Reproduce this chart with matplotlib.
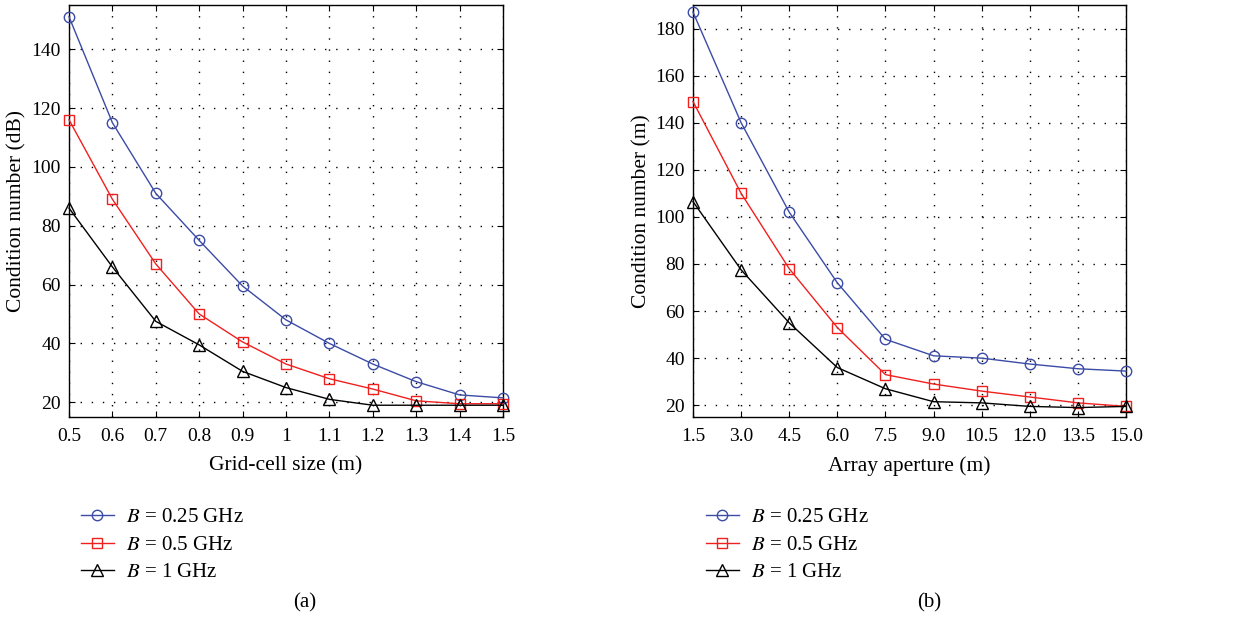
import numpy as np
import matplotlib
matplotlib.use("Agg")
import matplotlib.pyplot as plt

plt.rcParams['font.family'] = ['Liberation Serif', 'DejaVu Serif']
plt.rcParams['mathtext.fontset'] = 'stix'
plt.rcParams['font.size'] = 15.5

# panel (a): grid-cell size
grid_size = [0.5, 0.6, 0.7, 0.8, 0.9, 1.0, 1.1, 1.2, 1.3, 1.4, 1.5]
grid_tick_labels = ['0.5', '0.6', '0.7', '0.8', '0.9', '1', '1.1', '1.2', '1.3', '1.4', '1.5']
a_b025 = [151, 115, 91, 75, 59.5, 48, 40, 33, 27, 22.5, 21.5]
a_b05 = [116, 89, 67, 50, 40.5, 33, 28, 24.5, 20.5, 19.5, 19.5]
a_b1 = [86, 66, 47.5, 39.5, 30.5, 25, 21, 19, 19, 19, 19]

# panel (b): array aperture
aperture = [1.5, 3.0, 4.5, 6.0, 7.5, 9.0, 10.5, 12.0, 13.5, 15.0]
b_b025 = [187, 140, 102, 72, 48, 41, 40, 37.5, 35.5, 34.5]
b_b05 = [149, 110, 78, 53, 33, 29, 26, 23.5, 21, 19.5]
b_b1 = [106.5, 77.5, 55, 36, 27, 21.5, 21, 19.5, 19, 19.5]

labels = [r'$B$ = 0.25 GHz', r'$B$ = 0.5 GHz', r'$B$ = 1 GHz']
colors = ['#3b4ba6', '#f0201f', 'black']
markers = ['o', 's', '^']
msizes = [7.5, 7.5, 8.5]

W, H = 1252, 620
fig = plt.figure(figsize=(W / 100, H / 100), dpi=100)
ax1 = fig.add_axes([69 / W, 1 - 417 / H, (503 - 69) / W, (417 - 5) / H])
ax2 = fig.add_axes([693 / W, 1 - 417 / H, (1126 - 693) / W, (417 - 5) / H])


def draw(ax, x, series):
    for y, c, m, ms, lab in zip(series, colors, markers, msizes, labels):
        ax.plot(x, y, color=c, marker=m, mfc='none', mec=c, ms=ms, lw=1.0, mew=1.0,
                label=lab, clip_on=False, zorder=3)
    ax.grid(True, color='black', linestyle=(0, (1, 7)), linewidth=1.0)
    ax.tick_params(direction='in', top=True, right=True, length=4, labelsize=14)
    ax.tick_params(axis='x', pad=8)
    ax.tick_params(axis='y', pad=6)
    for s in ax.spines.values():
        s.set_linewidth(1.0)


draw(ax1, grid_size, [a_b025, a_b05, a_b1])
ax1.set_xlim(0.5, 1.5)
ax1.set_ylim(15, 155)
ax1.set_xticks(grid_size)
ax1.set_xticklabels(grid_tick_labels)
ax1.set_yticks(np.arange(20, 141, 20))
ax1.set_xlabel('Grid-cell size (m)', labelpad=8)
ax1.set_ylabel('Condition number (dB)')
ax1.yaxis.set_label_coords(-0.099, 0.5)

draw(ax2, aperture, [b_b025, b_b05, b_b1])
ax2.set_xlim(1.5, 15.0)
ax2.set_ylim(15, 190)
ax2.set_xticks(aperture)
ax2.set_xticklabels(['%.1f' % v for v in aperture])
ax2.set_yticks(np.arange(20, 181, 20))
ax2.set_xlabel('Array aperture (m)', labelpad=8)
ax2.set_ylabel('Condition number (m)')
ax2.yaxis.set_label_coords(-0.097, 0.5)

for ax, lx in [(ax1, 62), (ax2, 687)]:
    h, l = ax.get_legend_handles_labels()
    fig.legend(h, l, loc='upper left', bbox_to_anchor=(lx / W, 1 - 489 / H),
               frameon=False, handlelength=1.6, handletextpad=0.55, labelspacing=0.38,
               fontsize=15)

fig.text(305 / W, 1 - 603 / H, '(a)', ha='center', va='center', fontsize=15)
fig.text(929 / W, 1 - 603 / H, '(b)', ha='center', va='center', fontsize=15)

fig.savefig('out.png', dpi=100)
